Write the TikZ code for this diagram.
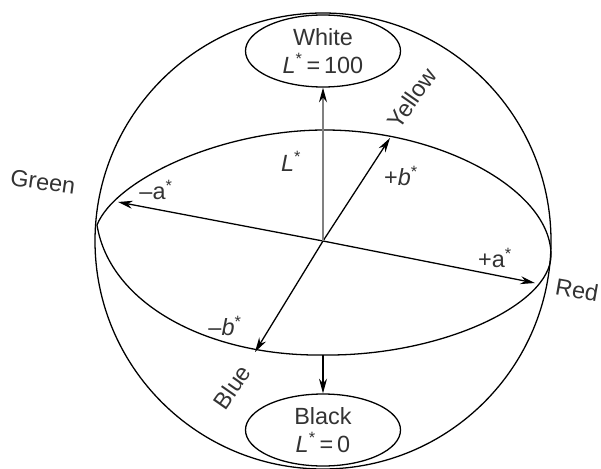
\documentclass[tikz,border=0pt]{standalone}
\usepackage{fontspec}
\setmainfont{Liberation Sans}
\usetikzlibrary{positioning,arrows.meta,shapes.geometric}
\newcommand{\Lstar}{\textit{L}\textsuperscript{*}}

\begin{document}
\begin{tikzpicture}[x=0.3mm,y=-0.3mm,>={Stealth[length=4.4mm,width=2.4mm]},line width=1.1pt,
  lbl/.style={text=black!80,font=\fontsize{20}{24}\selectfont,inner sep=1pt},
  pole/.style={lbl,ellipse,draw,minimum width=46.5mm,minimum height=21.6mm,inner sep=0pt,align=center}]
\useasboundingbox (0,0) rectangle (601,468);
\coordinate (o) at (323,241);
% sphere and equator
\draw (o) circle[radius=228];
\coordinate (eqL) at (97,225);
\coordinate (eqR) at (551,255);
\draw (eqL) .. controls (115,180) and (220,130) .. (325,130)
            .. controls (440,130) and (551,190) .. (eqR)
            .. controls (551,305) and (440,356) .. (325,355)
            .. controls (210,357) and (110,305) .. (eqL);
% poles
\node[pole] (white) at (323,51) {White\\\Lstar\,=\,100};
\node[pole] (black) at (323,430) {Black\\\Lstar\,=\,0};
\coordinate (aneg) at (118,202);
\coordinate (apos) at (535,283);
\coordinate (bpos) at (390,138);
\coordinate (bneg) at (255,352);
\coordinate (eqlow) at (323,355);
% axes
\draw[->] (o) -- (aneg);
\draw[->] (o) -- (apos);
\draw[->] (o) -- (bpos);
\draw[->] (o) -- (bneg);
\draw[-{Stealth[length=4.4mm,width=2.4mm,black]},black!50] (o) -- (white);
\draw[->] (eqlow) -- (black);
% labels
\node[lbl] (lL) at (291,161) {\Lstar};
\node[lbl] (lbp) at (401,176) {+\textit{b}\textsuperscript{*}};
\node[lbl] (lbn) at (225,326) {–\textit{b}\textsuperscript{*}};
\node[lbl] (lan) at (156,190) {–a\textsuperscript{*}};
\node[lbl] (lap) at (495,258) {+a\textsuperscript{*}};
\node[lbl,rotate=-8] (green) at (43,182) {Green};
\node[lbl,rotate=-10] (red) at (577,290) {Red};
\node[lbl,rotate=55] (yellow) at (412,98) {Yellow};
\node[lbl,rotate=55] (blue) at (232,387) {Blue};
\end{tikzpicture}
\end{document}
